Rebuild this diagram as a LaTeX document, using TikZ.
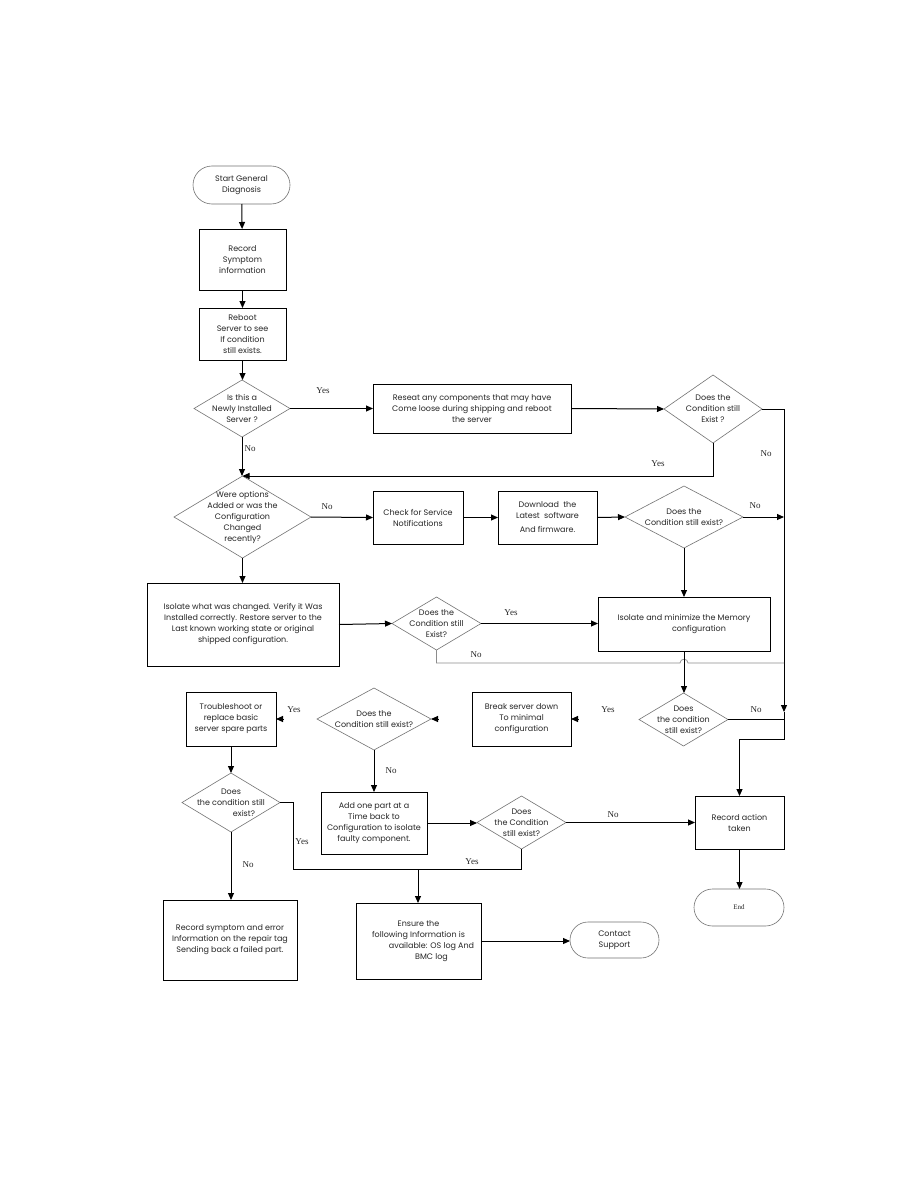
\documentclass[tikz,border=0pt]{standalone}
\usepackage{fontspec}
\setmainfont{Poppins}
\newfontfamily\lblfont{Liberation Serif}
\usetikzlibrary{shapes.geometric,arrows.meta}
\begin{document}
\begin{tikzpicture}[x=1pt,y=-1pt,
  every node/.style={inner sep=0pt,outer sep=0pt},
  txt/.style={font=\fontsize{8}{11}\selectfont, align=center, text=black!85},
  box/.style={txt, draw=black, line width=0.9pt, rectangle},
  term/.style={txt, draw=black!55, line width=0.6pt},
  dia/.style={diamond, draw=black!55, line width=0.6pt},
  arr/.style={line width=1pt, -{Triangle[length=7pt,width=6pt]}},
  ln/.style={line width=1pt},
  lbl/.style={font=\lblfont\fontsize{9}{10}\selectfont, text=black!85}
]
\useasboundingbox (0,0) rectangle (918,1188);
\fill[white] (0,0) rectangle (918,1188);

% ---------- nodes ----------
\node[term, minimum width=97, minimum height=38, rounded corners=19] (start) at (241.5,185) {Start General\\Diagnosis};
\node[box, minimum width=87, minimum height=61] (rec) at (242.5,259.5) {Record\\Symptom\\information};
\node[box, minimum width=87, minimum height=52] (reb) at (242.5,334) {Reboot\\Server to see\\If condition\\still exists.};

\node[dia, minimum width=96, minimum height=57] (d1) at (242,408.5) {};
\node[txt] (d1t) at (d1) {Is this a\\Newly Installed\\Server ?};
\node[box, minimum width=198, minimum height=49] (reseat) at (472,408.5) {Reseat any components that may have\\Come loose during shipping and reboot\\the server};
\node[dia, minimum width=98, minimum height=68] (d2) at (713,409) {};
\node[txt] (d2t) at (d2) {Does the\\Condition still\\Exist ?};

\node[dia, minimum width=137, minimum height=82] (d3) at (242.5,517) {};
\node[txt] (d3t) at (d3) {Were options\\Added or was the\\Configuration\\Changed\\recently?};
\node[box, minimum width=90, minimum height=53] (chk) at (418,517.5) {Check for Service\\Notifications};
\node[box, minimum width=99, minimum height=53] (dl) at (547.5,517.5) {Download\ \ the\\Latest\ \ software\\[3pt]And firmware.};
\node[dia, minimum width=118, minimum height=62] (d4) at (684,517) {};
\node[txt] (d4t) at (d4) {Does the\\Condition still exist?};

\node[box, minimum width=192, minimum height=83] (iso) at (243,624.5) {Isolate what was changed. Verify it Was\\Installed correctly. Restore server to the\\Last known working state or original\\shipped configuration.};
\node[dia, minimum width=89, minimum height=53] (d5) at (436.5,623.5) {};
\node[txt] (d5t) at (d5) {Does the\\Condition still\\Exist?};
\node[box, minimum width=172, minimum height=54] (mem) at (684,624) {Isolate and minimize the Memory\\\hspace*{30pt}configuration};

\node[dia, minimum width=89, minimum height=53] (d6) at (683.5,719.5) {};
\node[txt] (d6t) at (d6) {Does\\the condition\\still exist?};
\node[box, minimum width=99, minimum height=54] (brk) at (521.5,719) {Break server down\\To minimal\\configuration};
\node[dia, minimum width=114, minimum height=62] (d7) at (374,719) {};
\node[txt] (d7t) at (d7) {Does the\\Condition still exist?};
\node[box, minimum width=90, minimum height=54] (trb) at (231,719) {Troubleshoot or\\replace basic\\server spare parts};

\node[dia, minimum width=98, minimum height=59] (d8) at (231,802.5) {};
\node[txt] (d8t) at (d8) {Does\\the condition still\\\hspace*{26pt}exist?};
\node[box, minimum width=106, minimum height=62] (add) at (374,823) {Add one part at a\\Time back to\\Configuration to isolate\\faulty component.};
\node[dia, minimum width=89, minimum height=53] (d9) at (521.5,822.5) {};
\node[txt] (d9t) at (d9) {Does\\the Condition\\still exist?};
\node[box, minimum width=89, minimum height=53] (ract) at (739.5,822.5) {Record action\\taken};

\node[term, minimum width=90, minimum height=37, rounded corners=18.5, font=\lblfont\fontsize{7}{9}\selectfont] (endn) at (739,907.5) {End};
\node[box, minimum width=134, minimum height=80] (rsym) at (230,940) {Record symptom and error\\Information on the repair tag\\Sending back a failed part.};
\node[box, minimum width=125, minimum height=76] (ens) at (418.5,941) {Ensure the\\following Information is\\\hspace*{26pt}available: OS log And\\\hspace*{26pt}BMC log};
\node[term, minimum width=89, minimum height=36, rounded corners=18] (cont) at (614.5,940) {Contact\\Support};

% ---------- helper coordinates ----------
\coordinate (r1) at (784,409);
\coordinate (rj) at (784,712);
\coordinate (r2) at (784,739);
\coordinate (r3) at (784,517);
\coordinate (r4) at (784,663);
\coordinate (r5) at (784,719.5);
\coordinate (hl) at (680,663);
\coordinate (hr) at (688,663);
\coordinate (m) at (418,869);
\coordinate (k) at (293,869);

% ---------- connectors ----------
\draw[arr] (start) -- (rec);
\draw[arr] (rec) -- (reb);
\draw[arr] (reb.south) -- (reb.south |- d1.north);
\draw[arr] (d1.east) -- (reseat.west);
\draw[arr] (reseat.east) -- (d2.west);
\draw[arr] (d2.south) |- (d3.north);
\draw[arr] (d1.south) -- (d1.south |- d3.north);
\draw[arr] (d2.east) -- (r1) -- (rj);
\draw[arr] (rj) -- (r2) -| (ract.north);

\draw[arr] (d3.east) -- (chk.west);
\draw[arr] (chk.east) -- (dl.west);
\draw[arr] (dl.east) -- (d4.west);
\draw[arr] (d4.east) -- (r3);
\draw[arr] (d4.south) -- (d4.south |- mem.north);
\draw[arr] (d3.south) -- (d3.south |- iso.north);
\draw[arr] (iso.east) -- (d5.west);
\draw[arr] (d5.east) -- (d5.east -| mem.west);
\draw[line width=0.7pt, draw=black!45] (d5.south) |- (hl) .. controls (680,658) and (688,658) .. (hr) -- (r4);

\draw[arr] (mem.south) -- (mem.south |- d6.north);
% broken connectors: only the arrowheads are printed
\draw[arr] ([xshift=7.5pt]brk.east) -- (brk.east);
\draw[arr] ([xshift=7.5pt]d7.east) -- (d7.east);
\draw[arr] ([xshift=7.5pt]trb.east) -- (trb.east);
\draw[ln] (d6.east) -- (r5);
\draw[arr] (trb.south) -- (trb.south |- d8.north);
\draw[ln] (d8.east) -| (k) -- (m);
\draw[ln] (d9.south) |- (m);
\draw[arr] (m) -- (m |- ens.north);
\draw[arr] (d8.south) -- (d8.south |- rsym.north);
\draw[arr] (d7.south) -- (d7.south |- add.north);
\draw[arr] (add.east) -- (add.east -| d9.west);
\draw[arr] (d9.east) -- (d9.east -| ract.west);
\draw[arr] (ract.south) -- (ract.south |- endn.north);
\draw[arr] (ens.east) -- (ens.east -| cont.west);

% ---------- labels ----------
\node[lbl] (l1) at (323,391) {Yes};
\node[lbl] (l2) at (250,449) {No};
\node[lbl] (l3) at (658,464) {Yes};
\node[lbl] (l4) at (766,454) {No};
\node[lbl] (l5) at (327,507) {No};
\node[lbl] (l6) at (755,506) {No};
\node[lbl] (l7) at (511,613) {Yes};
\node[lbl] (l8) at (476,655) {No};
\node[lbl] (l9) at (608,710) {Yes};
\node[lbl] (l10) at (756,710) {No};
\node[lbl] (l11) at (294,710) {Yes};
\node[lbl] (l12) at (391,771) {No};
\node[lbl] (l13) at (302,842) {Yes};
\node[lbl] (l14) at (248,865) {No};
\node[lbl] (l15) at (472,862) {Yes};
\node[lbl] (l16) at (613,815) {No};
\end{tikzpicture}
\end{document}
